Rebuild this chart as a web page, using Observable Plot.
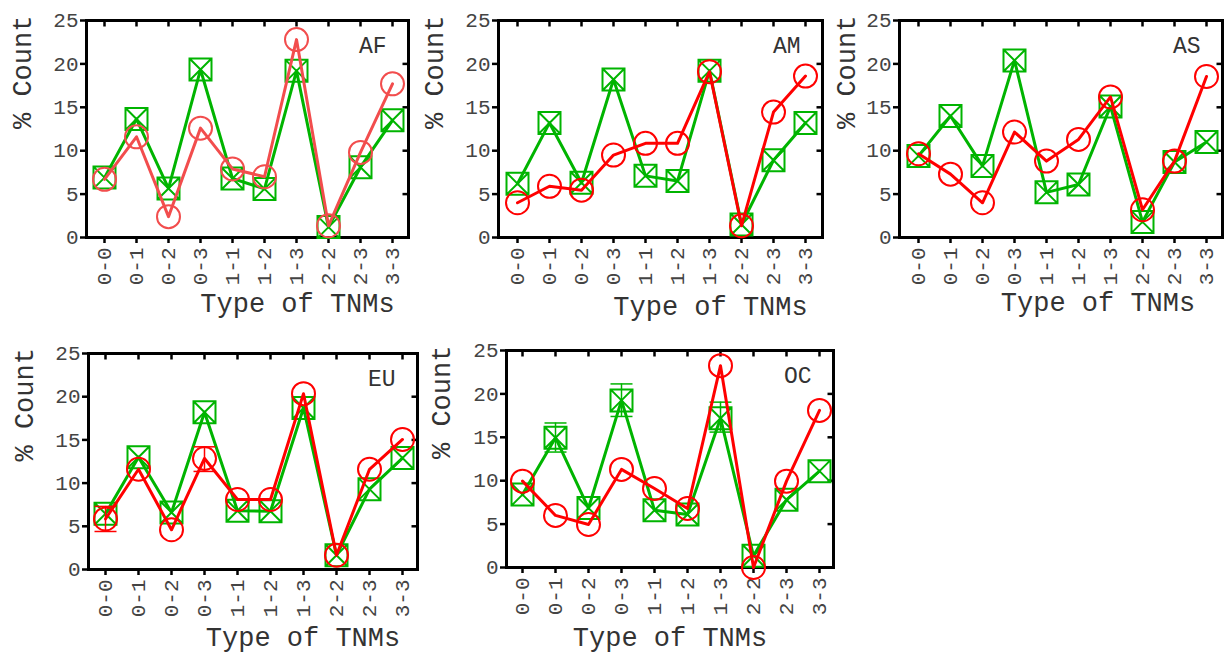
<!DOCTYPE html>
<html><head><meta charset="utf-8">
<script src="https://cdn.jsdelivr.net/npm/d3@7"></script>
<script src="https://cdn.jsdelivr.net/npm/@observablehq/plot@0.6"></script>
<style>
html,body{margin:0;padding:0;background:#fff;overflow:hidden;}
#wrap{position:relative;width:1224px;height:654px;overflow:hidden;}
</style></head><body><div id="wrap"></div>
<script>
// ---- data ----
const categories = ["0-0","0-1","0-2","0-3","1-1","1-2","1-3","2-2","2-3","3-3"];
const regions = ["AF","AM","AS","EU","OC"];
const yTicks = [0,5,10,15,20,25];

const greenAF = [6.9,13.65,5.65,19.35,6.8,5.6,19.2,1.2,8.1,13.5];
const redAF   = [6.7,11.6,2.4,12.6,7.9,7.0,22.8,1.35,9.8,17.7];
const greenAM = [6.2,13.2,6.3,18.2,7.1,6.5,19.2,1.5,8.9,13.2];
const redAM   = [4.0,5.9,5.45,9.5,10.85,10.85,19.1,1.35,14.45,18.6];
const greenAS = [9.4,14.0,8.25,20.4,5.2,6.1,15.1,1.8,8.7,11.0];
const redAS   = [9.65,7.3,4.0,12.15,8.8,11.3,16.2,3.2,8.8,18.55];
const greenEU = [6.45,13.0,6.6,18.2,6.8,6.75,18.7,1.65,9.3,12.9];
const redEU   = [5.85,11.6,4.6,12.85,8.1,8.1,20.35,1.65,11.6,15.05];
const greenOC = [8.4,14.95,6.85,19.25,6.6,6.1,17.2,1.35,7.8,11.1];
const redOC   = [9.95,6.0,4.95,11.3,9.1,6.8,23.25,0.0,9.95,18.1];

// error bars
const errRegion   = ["EU","EU","OC","OC","OC"];
const errSeries   = ["red","red","green","green","green"];
const errCategory = ["0-0","0-3","0-1","0-3","1-3"];
const errLow      = [4.4,11.35,13.3,17.4,15.6];
const errHigh     = [7.3,14.2,16.65,21.15,19.05];

const seriesData = {
  AF:[greenAF,redAF], AM:[greenAM,redAM], AS:[greenAS,redAS], EU:[greenEU,redEU], OC:[greenOC,redOC]
};

// ---- layout / style ----
const layout = {
  AF:{L:86,T:20,R:408,B:237,xdx:50,xdy:66,ydx:-64,red:"#f24d4d"},
  AM:{L:498,T:20,R:822,B:237,xdx:50,xdy:69,ydx:-64,red:"#ff0000"},
  AS:{L:899,T:20,R:1222,B:237,xdx:37,xdy:65,ydx:-53,red:"#ff0000"},
  EU:{L:88,T:353,R:417,B:569,xdx:50,xdy:68,ydx:-64,red:"#ff0000"},
  OC:{L:506,T:350,R:833,B:567,xdx:0,xdy:70,ydx:-65,red:"#ff0000"}
};
const GREEN = "#00b400";
const FONT = "'Liberation Mono', 'Courier New', monospace";

const squareX = {draw(ctx){const s=11; ctx.moveTo(-s,-s); ctx.lineTo(s,-s); ctx.lineTo(s,s); ctx.lineTo(-s,s); ctx.closePath(); ctx.moveTo(-s,-s); ctx.lineTo(s,s); ctx.moveTo(s,-s); ctx.lineTo(-s,s);}};
const capLine = {draw(ctx){ctx.moveTo(-11,0); ctx.lineTo(11,0);}};
const tickDown = {draw(ctx){ctx.moveTo(0,0); ctx.lineTo(0,6);}};
const tickLeft = {draw(ctx){ctx.moveTo(0,0); ctx.lineTo(-6,0);}};

const wrap = document.getElementById("wrap");
for (const name of regions) {
  const lay = layout[name];
  const [green, red] = seriesData[name];
  const mL=90, mT=20, mR=6, mB=100;
  const w = lay.R - lay.L + mL + mR;
  const h = lay.B - lay.T + mT + mB;
  const rows = categories.map((c,i)=>({cat:c, g:green[i], r:red[i]}));
  const errs = errRegion.map((r,i)=>({region:r, series:errSeries[i], cat:errCategory[i], lo:errLow[i], hi:errHigh[i]})).filter(d=>d.region===name);
  const errG = errs.filter(d=>d.series==="green");
  const errR = errs.filter(d=>d.series==="red");
  const chart = Plot.plot({
    width:w, height:h, marginLeft:mL, marginTop:mT, marginRight:mR, marginBottom:mB,
    style:{background:"transparent", overflow:"visible", fontFamily:FONT, position:"absolute", left:(lay.L-mL)+"px", top:(lay.T-mT)+"px", maxWidth:"none"},
    x:{type:"point", domain:categories, padding:0, insetLeft:16, insetRight:13.5},
    y:{domain:[0,25]},
    marks:[
      Plot.axisY({anchor:"left", ticks:yTicks, tickSize:6, tickPadding:2, fontSize:21, fill:"#444", stroke:"#000", strokeWidth:2.5, label:null}),
      Plot.axisX({anchor:"bottom", tickSize:6, tickPadding:4, tickRotate:-90, fontSize:21, fill:"#444", stroke:"#000", strokeWidth:2.5, label:null}),
      Plot.dot(categories, {x:d=>d, frameAnchor:"top", symbol:tickDown, stroke:"#000", strokeWidth:2.5}),
      Plot.dot(yTicks.slice(1,-1), {y:d=>d, frameAnchor:"right", symbol:tickLeft, stroke:"#000", strokeWidth:2.5}),
      Plot.frame({stroke:"#000", strokeWidth:3}),
      Plot.ruleX(errG, {x:"cat", y1:"lo", y2:"hi", stroke:GREEN, strokeWidth:1.5}),
      Plot.dot(errG, {x:"cat", y:"lo", symbol:capLine, stroke:GREEN, strokeWidth:1.5}),
      Plot.dot(errG, {x:"cat", y:"hi", symbol:capLine, stroke:GREEN, strokeWidth:1.5}),
      Plot.line(rows, {x:"cat", y:"g", stroke:GREEN, strokeWidth:3}),
      Plot.dot(rows, {x:"cat", y:"g", symbol:squareX, stroke:GREEN, strokeWidth:2, fill:"none"}),
      Plot.ruleX(errR, {x:"cat", y1:"lo", y2:"hi", stroke:lay.red, strokeWidth:1.5}),
      Plot.dot(errR, {x:"cat", y:"lo", symbol:capLine, stroke:lay.red, strokeWidth:1.5}),
      Plot.dot(errR, {x:"cat", y:"hi", symbol:capLine, stroke:lay.red, strokeWidth:1.5}),
      Plot.line(rows, {x:"cat", y:"r", stroke:lay.red, strokeWidth:3}),
      Plot.dot(rows, {x:"cat", y:"r", r:11.5, stroke:lay.red, strokeWidth:2, fill:"none"}),
      Plot.text([name], {frameAnchor:"top-right", textAnchor:"end", lineAnchor:"middle", dx:-22, dy:25, fontSize:23, fill:"#333", fontFamily:FONT}),
      Plot.text(["Type of TNMs"], {frameAnchor:"bottom", lineAnchor:"middle", dx:lay.xdx, dy:lay.xdy, fontSize:27, fill:"#333", fontFamily:FONT}),
      Plot.text(["% Count"], {frameAnchor:"left", lineAnchor:"middle", rotate:-90, dx:lay.ydx, fontSize:27, fill:"#333", fontFamily:FONT})
    ]
  });
  wrap.appendChild(chart);
}
</script>
</body></html>
